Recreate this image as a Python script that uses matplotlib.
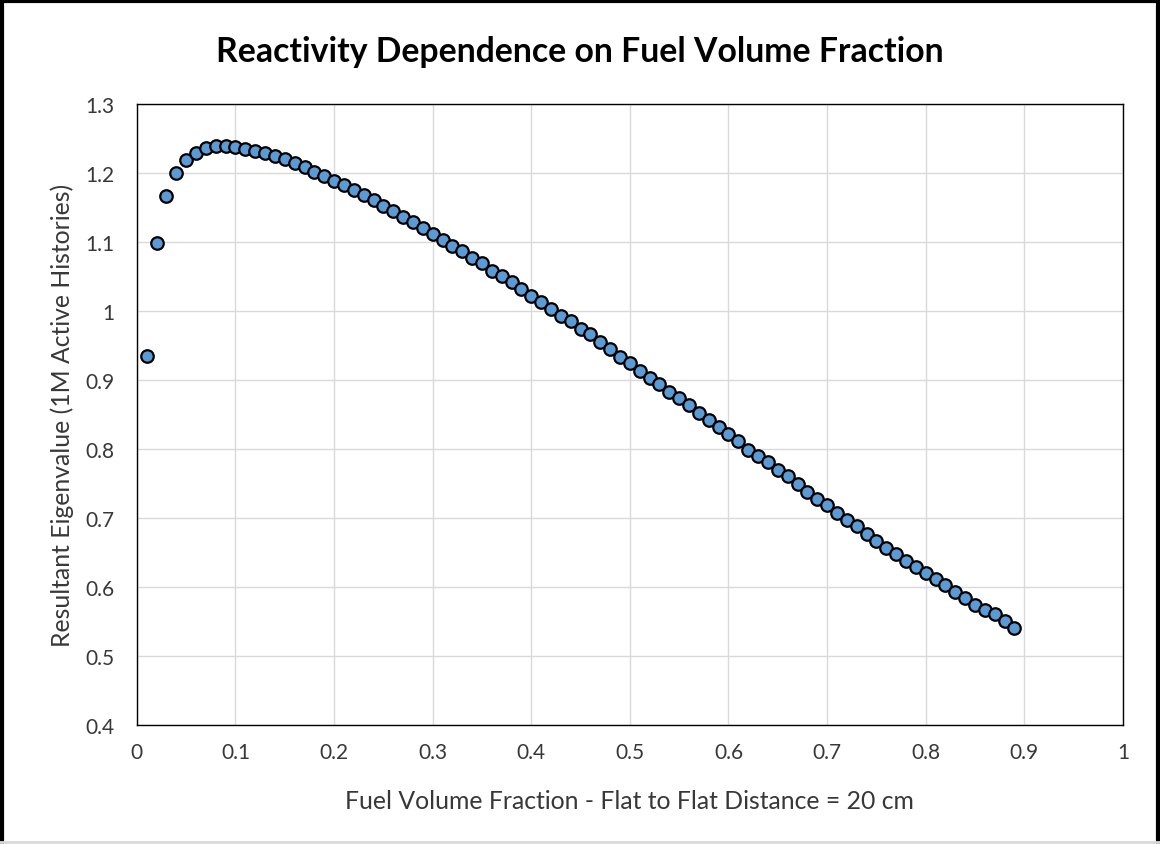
import matplotlib

matplotlib.use("Agg")
import matplotlib.pyplot as plt
from matplotlib.lines import Line2D
from matplotlib.ticker import FuncFormatter

FONT = "Lato"
INK = "#000000"
TEXT = "#383838"
GRID = "#D9D9D9"
MARKER_FILL = "#5B9BD5"

# fuel volume fraction, 0.01 .. 0.89
fraction = [round(0.01 * i, 2) for i in range(1, 90)]

eigenvalue = [
    0.934, 1.098, 1.166, 1.199, 1.219, 1.229, 1.236, 1.239, 1.239, 1.237,
    1.235, 1.232, 1.229, 1.225, 1.220, 1.214, 1.208, 1.201, 1.195, 1.188,
    1.182, 1.175, 1.168, 1.161, 1.152, 1.145, 1.136, 1.128, 1.120, 1.111,
    1.102, 1.094, 1.086, 1.076, 1.069, 1.058, 1.051, 1.042, 1.031, 1.022,
    1.013, 1.003, 0.993, 0.985, 0.974, 0.966, 0.955, 0.944, 0.933, 0.924,
    0.913, 0.903, 0.894, 0.883, 0.873, 0.863, 0.852, 0.842, 0.832, 0.822,
    0.812, 0.799, 0.790, 0.781, 0.770, 0.760, 0.749, 0.738, 0.727, 0.718,
    0.707, 0.697, 0.688, 0.677, 0.667, 0.657, 0.647, 0.637, 0.629, 0.620,
    0.611, 0.602, 0.593, 0.584, 0.574, 0.567, 0.560, 0.550, 0.541,
]

x_ticks = [0, 0.1, 0.2, 0.3, 0.4, 0.5, 0.6, 0.7, 0.8, 0.9, 1]
y_ticks = [0.4, 0.5, 0.6, 0.7, 0.8, 0.9, 1.0, 1.1, 1.2, 1.3]


def main() -> None:
    fig = plt.figure(figsize=(11.6, 8.45), dpi=100)
    ax = fig.add_axes([0.118, 0.141, 0.850, 0.735])

    ax.plot(fraction, eigenvalue, linestyle="none", marker="o",
            markersize=9, markerfacecolor=MARKER_FILL,
            markeredgecolor=INK, markeredgewidth=1.6, zorder=3)

    ax.set_xlim(0, 1)
    ax.set_ylim(0.4, 1.3)
    ax.set_xticks(x_ticks)
    ax.set_yticks(y_ticks)
    fmt = FuncFormatter(lambda v, _: f"{v:g}")
    ax.xaxis.set_major_formatter(fmt)
    ax.yaxis.set_major_formatter(fmt)
    ax.grid(True, color=GRID, linewidth=1.0, zorder=0)
    ax.set_axisbelow(True)
    ax.tick_params(length=0, labelsize=15, labelcolor=TEXT)
    ax.tick_params(axis="x", pad=12)
    ax.tick_params(axis="y", pad=16)
    for lab in ax.get_xticklabels() + ax.get_yticklabels():
        lab.set_fontfamily(FONT)
    for sp in ax.spines.values():
        sp.set_color(INK)
        sp.set_linewidth(1.0)

    ax.set_xlabel("Fuel Volume Fraction - Flat to Flat Distance = 20 cm",
                  fontsize=17.8, family=FONT, color=TEXT, labelpad=20)
    ax.set_ylabel("Resultant Eigenvalue (1M Active Histories)",
                  fontsize=17.8, family=FONT, color=TEXT, labelpad=8)

    fig.text(0.5, 0.939, "Reactivity Dependence on Fuel Volume Fraction",
             ha="center", va="center", fontsize=24.3, fontweight="bold",
             family=FONT, color=INK)

    # outer frame: black on three sides, light grey at the bottom
    fig.add_artist(Line2D([0.0015, 0.0015], [0, 1], transform=fig.transFigure,
                          color=INK, linewidth=3))
    fig.add_artist(Line2D([0.9985, 0.9985], [0, 1], transform=fig.transFigure,
                          color=INK, linewidth=3))
    fig.add_artist(Line2D([0, 1], [0.998, 0.998], transform=fig.transFigure,
                          color=INK, linewidth=3))
    fig.add_artist(Line2D([0, 1], [0.002, 0.002], transform=fig.transFigure,
                          color=GRID, linewidth=2))

    fig.savefig("out.png", dpi=100, facecolor="white")


if __name__ == "__main__":
    main()
